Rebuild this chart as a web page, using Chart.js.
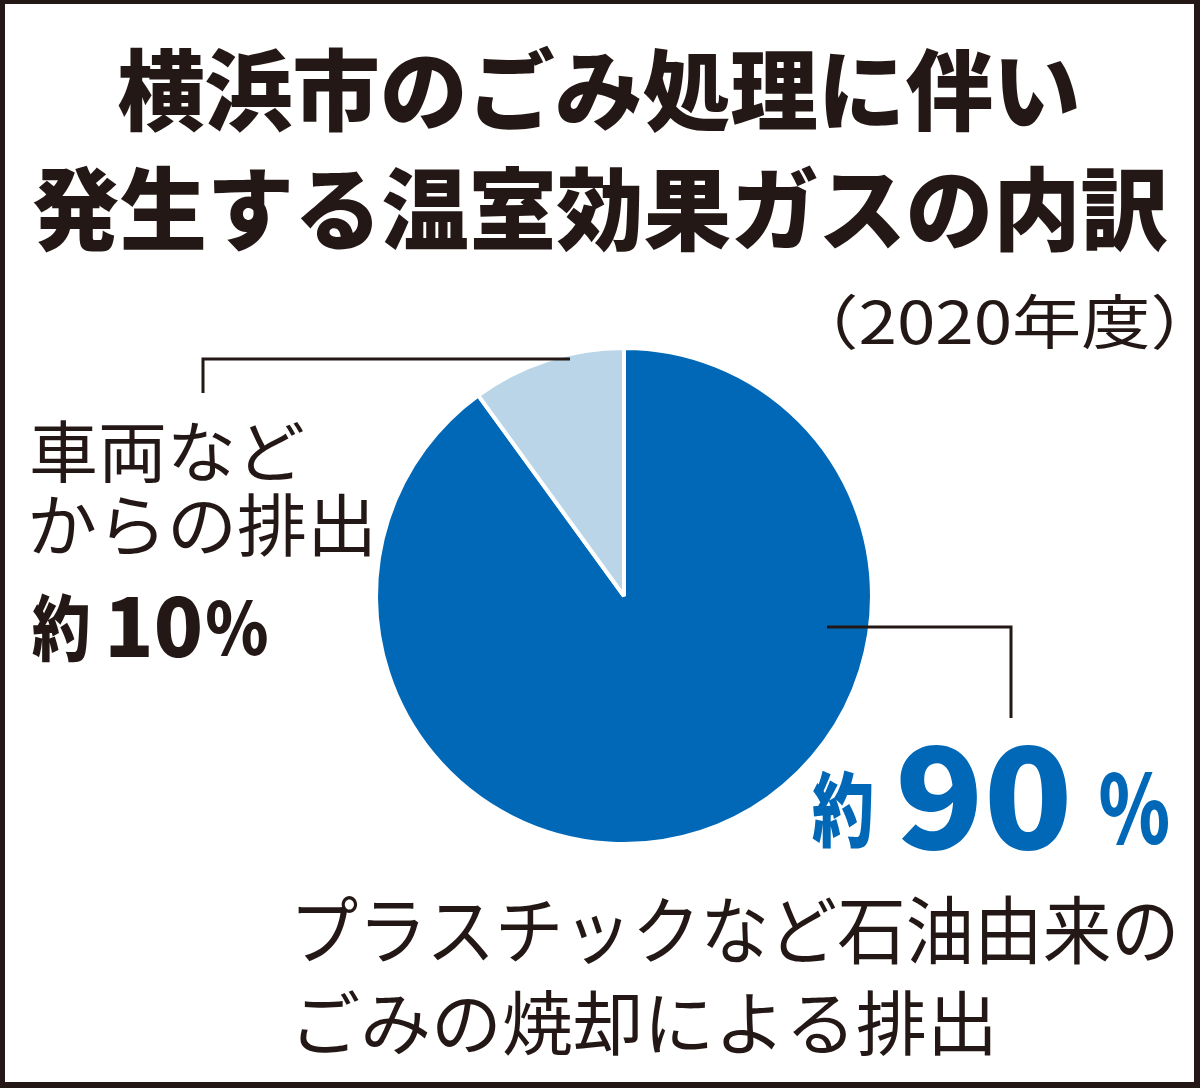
<!DOCTYPE html>
<html lang="ja">
<head>
<meta charset="utf-8">
<title>横浜市のごみ処理に伴い発生する温室効果ガスの内訳</title>
<script src="https://cdn.jsdelivr.net/npm/chart.js@4.4.1/dist/chart.umd.min.js"></script>
<style>
    html, body { margin: 0; padding: 0; background: #fff; }
    #wrap { position: relative; width: 1200px; height: 1088px; }
    canvas { display: block; }
</style>
</head>
<body>
<div id="wrap"><canvas id="ghgPie" width="1200" height="1088"></canvas></div>
<script>
// data
const titleLines = ['横浜市のごみ処理に伴い', '発生する温室効果ガスの内訳'];
const yearLabel = '（2020年度）';
const categories = [
    ['プラスチックなど石油由来の', 'ごみの焼却による排出'],
    ['車両など', 'からの排出']
];
const shares = [90, 10];
const sliceColors = ['#0068b7', '#b9d5e7'];

const INK = '#231815';
const JP = '"Noto Sans CJK JP", "Noto Sans CJK SC", sans-serif';

// draw text so its ink fills the given box
function fitText(ctx, text, font, box, color) {
    ctx.save();
    ctx.font = font;
    ctx.textAlign = 'left';
    ctx.textBaseline = 'alphabetic';
    const m = ctx.measureText(text);
    const w = m.actualBoundingBoxLeft + m.actualBoundingBoxRight;
    const h = m.actualBoundingBoxAscent + m.actualBoundingBoxDescent;
    ctx.translate(box.left, box.top);
    ctx.scale((box.right - box.left) / w, (box.bottom - box.top) / h);
    ctx.fillStyle = color;
    ctx.fillText(text, m.actualBoundingBoxLeft, m.actualBoundingBoxAscent);
    ctx.restore();
}

// frame behind everything
const framePlugin = {
    id: 'frame',
    beforeDraw(chart) {
        const ctx = chart.ctx;
        ctx.save();
        ctx.fillStyle = INK;
        ctx.fillRect(0, 0, chart.width, chart.height);
        ctx.fillStyle = '#fff';
        ctx.fillRect(5, 4, chart.width - 11, chart.height - 10);
        ctx.restore();
    }
};

// leader lines + all the texts
const labelPlugin = {
    id: 'labels',
    afterDatasetsDraw(chart) {
        const ctx = chart.ctx;
        const arc = chart.getDatasetMeta(0).data[0];
        const cx = arc.x, cy = arc.y;

        ctx.save();
        ctx.strokeStyle = INK;
        ctx.lineWidth = 3;
        ctx.lineCap = 'butt';
        ctx.beginPath();
        ctx.moveTo(cx - 421, cy - 203);
        ctx.lineTo(cx - 421, cy - 237);
        ctx.lineTo(cx - 54, cy - 237);
        ctx.stroke();
        ctx.beginPath();
        ctx.moveTo(cx + 203, cy + 31);
        ctx.lineTo(cx + 387, cy + 31);
        ctx.lineTo(cx + 387, cy + 122);
        ctx.stroke();
        ctx.restore();

        // title
        fitText(ctx, titleLines[0], `900 96px ${JP}`, { left: 118, right: 1077, top: 45, bottom: 133 }, INK);
        fitText(ctx, titleLines[1], `900 96px ${JP}`, { left: 33, right: 1167, top: 165, bottom: 253 }, INK);
        fitText(ctx, yearLabel, `400 58px ${JP}`, { left: 837, right: 1172, top: 293, bottom: 350 }, INK);

        // small slice
        fitText(ctx, categories[1][0], `400 70px ${JP}`, { left: 32, right: 303, top: 420, bottom: 483 }, INK);
        fitText(ctx, categories[1][1], `400 70px ${JP}`, { left: 32, right: 370, top: 493, bottom: 557 }, INK);
        fitText(ctx, '約', `900 70px ${JP}`, { left: 32, right: 88, top: 592, bottom: 662 }, INK);
        fitText(ctx, String(shares[1]), `900 84px ${JP}`, { left: 110, right: 200, top: 596, bottom: 658 }, INK);
        fitText(ctx, '%', `900 76px ${JP}`, { left: 207, right: 267, top: 600, bottom: 656 }, INK);

        // big slice
        const blue = sliceColors[0];
        fitText(ctx, '約', `900 86px ${JP}`, { left: 812, right: 872, top: 769, bottom: 848 }, blue);
        fitText(ctx, String(shares[0]), `900 144px ${JP}`, { left: 900, right: 1067, top: 745, bottom: 851 }, blue);
        fitText(ctx, '%', `900 96px ${JP}`, { left: 1100, right: 1168, top: 772, bottom: 845 }, blue);
        fitText(ctx, categories[0][0], `400 74px ${JP}`, { left: 298, right: 1174, top: 895, bottom: 965 }, INK);
        fitText(ctx, categories[0][1], `400 74px ${JP}`, { left: 300, right: 991, top: 990, bottom: 1057 }, INK);
    }
};

const start = () => {
    const ctx = document.getElementById('ghgPie').getContext('2d');
    new Chart(ctx, {
        type: 'pie',
        data: {
            labels: categories.map(c => c.join('')),
            datasets: [{
                data: shares,
                backgroundColor: sliceColors,
                borderColor: '#ffffff',
                borderWidth: 4
            }]
        },
        options: {
            responsive: false,
            animation: false,
            radius: 248,
            rotation: 0,
            layout: { padding: { left: 48, top: 104, right: 0, bottom: 0 } },
            plugins: {
                legend: { display: false },
                tooltip: { enabled: false },
                title: { display: false }
            }
        },
        plugins: [framePlugin, labelPlugin]
    });
};

Promise.all([
    document.fonts.load(`900 96px ${JP}`, '横'),
    document.fonts.load(`700 96px ${JP}`, '約'),
    document.fonts.load(`400 70px ${JP}`, '車')
]).then(start, start);
</script>
</body>
</html>
